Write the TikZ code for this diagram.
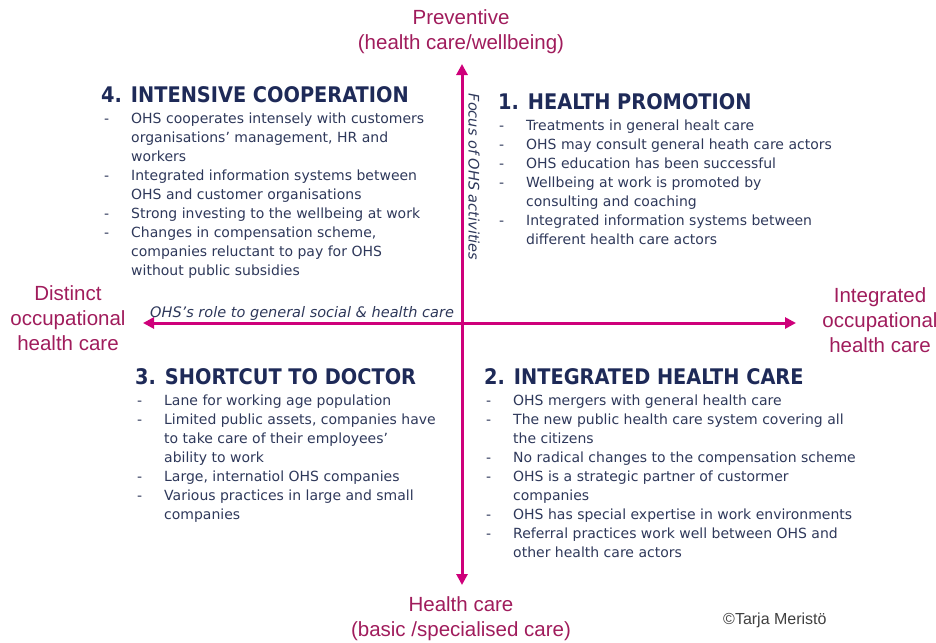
\documentclass[tikz,border=0pt]{standalone}
\usepackage{fontspec}
\usepackage{tikz}
\usetikzlibrary{arrows.meta}
\setmainfont{DejaVu Sans}
\newfontfamily\headfont{DejaVu Sans Condensed}
\newfontfamily\axisfont{Liberation Sans}
\definecolor{axisred}{RGB}{206,0,122}
\definecolor{labelred}{RGB}{160,28,92}
\definecolor{titleblue}{RGB}{30,42,88}
\definecolor{textblue}{RGB}{46,56,90}
\newenvironment{pointlist}{\fontsize{14}{19}\selectfont\begin{tabular}[t]{@{}p{27pt}@{}l@{}}}{\end{tabular}}

\begin{document}
\begin{tikzpicture}[x=1pt, y=-1pt]
  \tikzset{axis/.style={draw=axisred, line width=3pt,
      {Triangle[length=11pt,width=11pt]}-{Triangle[length=11pt,width=11pt]}},
    axislabel/.style={align=center, inner sep=0pt, text=labelred,
      font=\axisfont\fontsize{20.5}{25}\selectfont},
    heading/.style={anchor=base west, inner sep=0pt, text=titleblue,
      font=\headfont\bfseries\fontsize{21.5}{26}\selectfont},
    items/.style={anchor=base west, inner sep=0pt, text=textblue},
    axisnote/.style={inner sep=0pt, text=textblue,
      font=\itshape\fontsize{14.5}{16}\selectfont}}
  \useasboundingbox (0,0) rectangle (936,642);
  \coordinate (top) at (462,64);
  \coordinate (bottom) at (462,585);
  \coordinate (left) at (143,323);
  \coordinate (right) at (796,323);
  \draw[axis] (bottom) -- (top);
  \draw[axis] (left) -- (right);
  \node[axislabel] (preventive) at (461,32) {Preventive\\(health care/wellbeing)};
  \node[axislabel] (curative) at (461,619) {Health care\\(basic /specialised care)};
  \node[axislabel] (distinct) at (68,318) {Distinct\\occupational\\health care};
  \node[axislabel] (integrated) at (880,320) {Integrated\\occupational\\health care};
  \node[axisnote, rotate=-90] (focus) at (474,177) {Focus of OHS activities};
  \node[axisnote, anchor=base west] (role) at (150,317) {OHS's role to general social \& health care};
  \node[heading] (t4) at (101,102) {4. INTENSIVE COOPERATION};
  \node[items] (l4) at (104,123) {\begin{pointlist}
      - & OHS cooperates intensely with customers\\
        & organisations' management, HR and\\
        & workers\\
      - & Integrated information systems between\\
        & OHS and customer organisations\\
      - & Strong investing to the wellbeing at work\\
      - & Changes in compensation scheme,\\
        & companies reluctant to pay for OHS\\
        & without public subsidies
    \end{pointlist}};
  \node[heading] (t1) at (498,109) {1. HEALTH PROMOTION};
  \node[items] (l1) at (499,130) {\begin{pointlist}
      - & Treatments in general healt care\\
      - & OHS may consult general heath care actors\\
      - & OHS education has been successful\\
      - & Wellbeing at work is promoted by\\
        & consulting and coaching\\
      - & Integrated information systems between\\
        & different health care actors
    \end{pointlist}};
  \node[heading] (t3) at (135,384) {3. SHORTCUT TO DOCTOR};
  \node[items] (l3) at (137,405) {\begin{pointlist}
      - & Lane for working age population\\
      - & Limited public assets, companies have\\
        & to take care of their employees'\\
        & ability to work\\
      - & Large, internatiol OHS companies\\
      - & Various practices in large and small\\
        & companies
    \end{pointlist}};
  \node[heading] (t2) at (484,384) {2. INTEGRATED HEALTH CARE};
  \node[items] (l2) at (486,405) {\begin{pointlist}
      - & OHS mergers with general health care\\
      - & The new public health care system covering all\\
        & the citizens\\
      - & No radical changes to the compensation scheme\\
      - & OHS is a strategic partner of custormer\\
        & companies\\
      - & OHS has special expertise in work environments\\
      - & Referral practices work well between OHS and\\
        & other health care actors
    \end{pointlist}};
  \node[anchor=base west, inner sep=0pt, text=black!75,
    font=\axisfont\fontsize{16}{18}\selectfont] (copy) at (723,624) {©Tarja Meristö};
\end{tikzpicture}
\end{document}
